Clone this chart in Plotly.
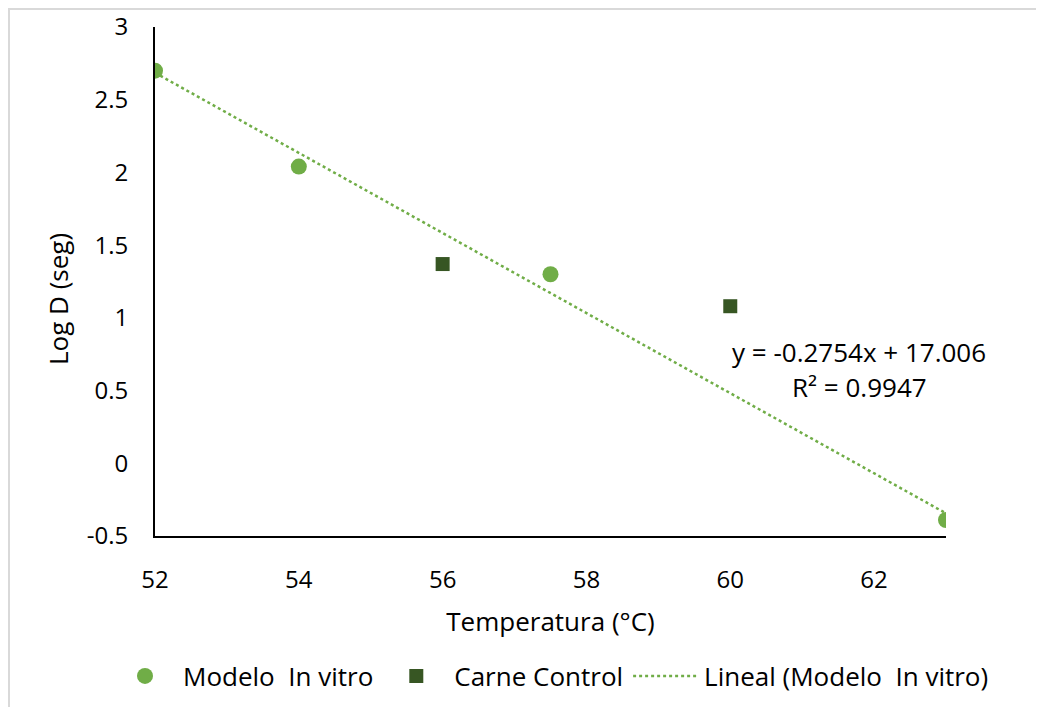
import numpy as np
import plotly.graph_objects as go

# Data
temp_invitro = [52, 54, 57.5, 63]
logd_invitro = [2.70, 2.04, 1.30, -0.39]
temp_carne = [56, 60]
logd_carne = [1.37, 1.08]
slope = -0.2754
intercept = 17.006
r2 = 0.9947
x_ticks = [52, 54, 56, 58, 60, 62]
y_ticks = [-0.5, 0, 0.5, 1, 1.5, 2, 2.5, 3]
y_tick_text = ["-0.5", "0", "0.5", "1", "1.5", "2", "2.5", "3"]

W, H = 1044, 707
# page has an 8px body margin; compensate so the plot lands where the reference has it
L, T = 147, 19
PW, PH = 791, 509
R = W - L - PW
B = H - T - PH

FONT = "Open Sans"
light = "#70AD47"
dark = "#375623"

trend_x = np.array([min(temp_invitro), max(temp_invitro)])
trend_y = slope * trend_x + intercept

fig = go.Figure()
fig.add_trace(go.Scatter(x=temp_invitro, y=logd_invitro, mode="markers",
                         name="Modelo  In vitro",
                         marker=dict(symbol="circle", size=16, color=light)))
fig.add_trace(go.Scatter(x=temp_carne, y=logd_carne, mode="markers",
                         name="Carne Control",
                         marker=dict(symbol="square", size=14, color=dark)))
fig.add_trace(go.Scatter(x=trend_x, y=trend_y, mode="lines",
                         name="Lineal (Modelo  In vitro)",
                         line=dict(color=light, width=2.5, dash="dot")))

fig.add_annotation(x=61.79, y=0.765, xref="x", yref="y",
                   text=f"y = {slope}x + {intercept}",
                   showarrow=False, align="center",
                   font=dict(family=FONT, size=26, color="#000"))
fig.add_annotation(x=61.8, y=0.525, xref="x", yref="y",
                   text=f"R² = {r2}",
                   showarrow=False, align="center",
                   font=dict(family=FONT, size=26, color="#000"))
# y-axis title placed as the reference shows it
fig.add_annotation(x=(49.5 - L) / PW, y=1 - (291.5 - T) / PH, xref="paper", yref="paper",
                   text="Log D (seg)", textangle=-90, showarrow=False,
                   xanchor="center", yanchor="middle",
                   font=dict(family=FONT, size=26, color="#000"))

fig.add_shape(type="rect", xref="paper", yref="paper",
              x0=(1 - L) / PW, x1=(1200 - L) / PW,
              y0=(T + PH - 900) / PH, y1=1 + (T - 1) / PH,
              line=dict(color="#d9d9d9", width=2), fillcolor="rgba(0,0,0,0)", layer="below")

fig.update_layout(
    width=W, height=H,
    margin=dict(l=L, r=R, t=T, b=B, autoexpand=False),
    paper_bgcolor="white", plot_bgcolor="white",
    font=dict(family=FONT, size=25, color="#000"),
    showlegend=True,
    legend=dict(orientation="h", x=(99 - L) / PW, xanchor="left",
                y=-140 / PH, yanchor="middle",
                font=dict(family=FONT, size=26, color="#000"), itemwidth=66,
                traceorder="normal"),
    xaxis=dict(range=[52, 63], tickvals=x_ticks, showgrid=False, zeroline=False,
               showline=True, linecolor="#000", linewidth=2, ticks="",
               ticklabelstandoff=21, automargin=True,
               tickfont=dict(family=FONT, size=24),
               title=dict(text="Temperatura (°C)", font=dict(family=FONT, size=26), standoff=19)),
    yaxis=dict(range=[-0.5, 3], tickvals=y_ticks, ticktext=y_tick_text,
               showgrid=False, zeroline=False,
               showline=True, linecolor="#000", linewidth=2, ticks="",
               ticklabelstandoff=20, automargin=False,
               tickfont=dict(family=FONT, size=24)),
)

fig.write_html("out.html")
